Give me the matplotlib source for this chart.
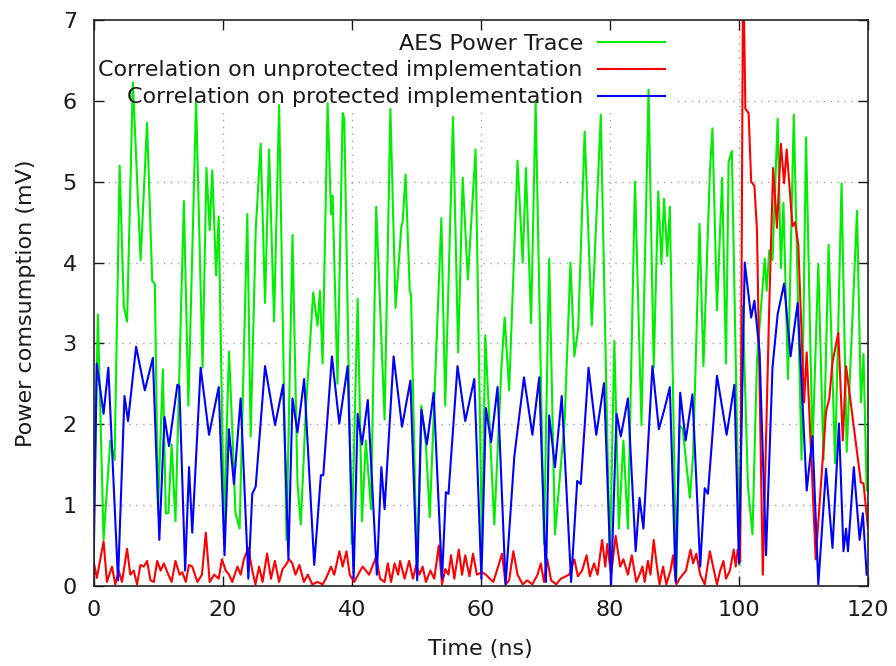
import matplotlib
matplotlib.use("Agg")
import matplotlib.pyplot as plt
from matplotlib.patches import Rectangle

# AES power trace (mV) against time (ns)
green_t = [0.0, 0.68, 1.56, 2.6, 3.27, 4.05, 4.7, 5.2, 6.1, 7.3, 8.3, 9.1, 9.5, 10.0, 10.75,
           11.2, 11.6, 12.1, 12.7, 14.0, 14.7, 15.9, 16.9, 17.5, 18.0, 18.4, 19.0, 19.4, 20.2,
           21.0, 21.5, 22.0, 22.64, 23.83, 24.35, 25.13, 25.9, 26.58, 27.2, 27.98, 28.76, 29.9,
           30.83, 31.6, 32.12, 32.9, 34.04, 34.7, 35.08, 35.5, 36.27, 36.8, 37.05, 37.8, 38.6,
           38.86, 40.0, 40.93, 41.6, 42.2, 43.0, 43.8, 45.1, 46.0, 46.8, 47.7, 47.9, 48.35, 49.0,
           49.2, 50.1, 50.8, 51.5, 52.1, 53.9, 54.5, 55.7, 56.5, 57.2, 58.0, 59.2, 60.2, 60.7,
           61.6, 62.1, 63.2, 63.7, 64.4, 65.7, 66.5, 67.0, 67.8, 68.5, 69.8, 70.6, 71.5, 73.0,
           73.9, 74.5, 75.1, 76.1, 77.2, 78.6, 80.0, 80.7, 81.4, 82.1, 82.8, 83.9, 84.9, 86.0,
           86.8, 87.5, 88.0, 88.4, 88.9, 89.3, 90.3, 90.8, 91.3, 92.4, 92.9, 93.9, 94.5, 95.5,
           95.9, 96.6, 97.4, 98.0, 98.4, 98.9, 100.1, 100.6, 101.4, 102.1, 102.8, 104.0, 104.3,
           104.7, 105.2, 106.0, 106.5, 106.9, 107.6, 108.5, 109.7, 110.4, 111.4, 112.3, 113.1,
           113.9, 114.9, 115.9, 116.7, 118.3, 118.9, 119.3, 119.8]
green_v = [0.6, 3.36, 0.57, 1.8, 1.56, 5.2, 3.46, 3.27, 6.23, 4.03, 5.73, 3.77, 3.74, 0.95, 2.68,
           0.9, 0.9, 1.75, 0.8, 4.76, 2.23, 6.0, 2.7, 5.17, 4.4, 5.14, 3.84, 4.57, 0.76,
           2.9, 1.94, 0.9, 0.71, 4.6, 1.85, 4.4, 5.47, 3.5, 5.4, 3.27, 5.95, 0.57,
           4.34, 1.28, 0.76, 2.18, 3.63, 3.22, 3.65, 2.75, 5.97, 4.6, 4.83, 2.5, 5.85,
           5.78, 0.52, 3.55, 0.8, 1.8, 0.95, 4.69, 2.06, 5.9, 3.44, 4.45, 4.5, 5.09, 3.65,
           3.6, 0.14, 2.23, 1.75, 0.85, 4.55, 2.23, 5.8, 2.89, 5.05, 3.79, 5.4, 0.43, 3.1,
           1.61, 0.76, 2.7, 3.32, 2.42, 5.26, 4.0, 5.17, 3.25, 6.0, 0.52, 4.05, 0.64, 2.04,
           4.0, 2.84, 3.18, 5.62, 3.22, 5.83, 0.28, 3.03, 0.71, 1.8, 0.71, 5.0, 1.99, 6.14,
           2.7, 4.88, 3.98, 4.79, 4.08, 4.69, 0.05, 1.99, 1.94, 1.09, 1.61, 4.48, 2.72, 5.12,
           5.66, 3.41, 5.05, 2.75, 5.24, 5.38, 0.26, 3.46, 1.23, 0.64, 2.8, 4.05, 3.65,
           4.15, 4.03, 5.78, 3.93, 4.74, 2.56, 5.83, 1.56, 5.55, 1.7, 3.98, 1.56,
           4.22, 1.52, 4.98, 1.66, 4.64, 2.27, 2.87, 1.18]

# correlation on the unprotected implementation
red_t = [0.0, 0.52, 1.56, 2.08, 2.86, 3.38, 3.9, 4.42, 5.2, 5.7, 6.23, 6.75, 7.27, 7.8, 8.3,
         8.83, 9.35, 9.87, 10.4, 10.9, 11.6, 12.1, 12.7, 13.35, 13.77, 14.3, 14.8, 15.3, 16.1,
         16.8, 17.4, 18.0, 18.7, 19.4, 19.9, 20.5, 21.0, 21.5, 22.3, 22.8, 23.3, 24.0, 24.6,
         25.1, 25.65, 26.2, 26.9, 27.5, 28.1, 28.76, 29.3, 29.8, 30.3, 30.8, 31.3, 31.9, 32.6,
         33.2, 33.9, 34.7, 35.5, 36.0, 36.8, 37.3, 38.1, 38.6, 39.2, 39.7, 40.4, 41.2, 41.7,
         42.7, 43.8, 44.4, 45.1, 45.6, 46.1, 46.65, 47.2, 47.5, 48.2, 48.9, 49.5, 50.0, 50.5,
         51.0, 51.5, 52.2, 52.8, 53.5, 54.0, 54.5, 55.0, 55.4, 55.9, 56.6, 57.1, 57.6, 58.25,
         58.8, 59.4, 60.2, 60.8, 61.4, 61.95, 62.5, 63.3, 63.85, 64.4, 65.05, 65.7, 66.5, 67.2,
         68.0, 68.8, 69.3, 69.8, 70.3, 70.9, 71.7, 72.4, 73.2, 73.7, 74.5, 75.05, 75.7, 76.4,
         76.9, 77.55, 78.1, 78.8, 79.3, 79.6, 80.2, 80.9, 81.6, 82.1, 82.8, 83.4, 84.1, 84.6,
         85.05, 85.4, 85.9, 86.3, 86.8, 87.3, 87.7, 88.25, 88.75, 89.4, 89.8, 90.3, 90.8, 91.3,
         91.8, 92.5, 92.9, 93.4, 94.0, 94.7, 95.5, 96.0, 96.6, 97.1, 97.6, 98.0, 98.6, 99.2,
         99.5, 99.8, 100.2, 100.65, 101.0, 101.5, 101.9, 102.4, 102.8, 103.7, 104.7, 105.3,
         105.9, 106.5, 107.0, 107.4, 108.3, 108.7, 109.2, 110.1, 110.5, 111.9, 113.5, 114.0,
         114.5, 115.4, 116.1, 116.6, 118.0, 118.9, 119.3, 120.0]
red_v = [0.31, 0.1, 0.55, 0.05, 0.24, 0.02, 0.19, 0.05, 0.46, 0.14, 0.19, 0.02, 0.26, 0.24, 0.31,
         0.07, 0.05, 0.31, 0.19, 0.28, 0.14, 0.05, 0.31, 0.14, 0.17, 0.05, 0.26, 0.24, 0.05,
         0.14, 0.66, 0.05, 0.14, 0.09, 0.33, 0.19, 0.14, 0.05, 0.24, 0.14, 0.33, 0.47, 0.19,
         0.02, 0.24, 0.05, 0.4, 0.09, 0.31, 0.05, 0.21, 0.26, 0.33, 0.28, 0.14, 0.26, 0.05,
         0.14, 0.02, 0.05, 0.02, 0.09, 0.24, 0.14, 0.43, 0.24, 0.43, 0.14, 0.05, 0.17, 0.24,
         0.14, 0.36, 0.09, 0.05, 0.28, 0.05, 0.28, 0.14, 0.31, 0.09, 0.31, 0.09, 0.26, 0.14,
         0.24, 0.05, 0.19, 0.09, 0.5, 0.02, 0.21, 0.14, 0.38, 0.09, 0.45, 0.14, 0.38, 0.12,
         0.4, 0.14, 0.17, 0.14, 0.09, 0.05, 0.19, 0.4, 0.02, 0.07, 0.43, 0.14, 0.02, 0.07,
         0.02, 0.14, 0.28, 0.05, 0.33, 0.07, 0.02, 0.09, 0.12, 0.14, 0.33, 0.12, 0.19, 0.38,
         0.12, 0.28, 0.14, 0.57, 0.24, 0.52, 0.14, 0.62, 0.24, 0.33, 0.14, 0.38, 0.05, 0.14,
         0.24, 0.05, 0.31, 0.14, 0.57, 0.24, 0.02, 0.24, 0.02, 0.19, 0.38, 0.02, 0.09, 0.14,
         0.19, 0.45, 0.28, 0.4, 0.14, 0.02, 0.43, 0.24, 0.02, 0.19, 0.31, 0.09, 0.19, 0.45,
         0.24, 0.45, 0.3, 7.8, 5.9, 5.85, 5.0, 4.95, 4.4, 0.14, 3.46, 5.17,
         4.43, 5.47, 4.98, 5.4, 4.45, 4.5, 4.22, 2.27, 2.89, 0.33, 2.16, 2.32,
         2.77, 3.13, 1.8, 2.72, 1.85, 1.28, 1.27, 0.71]

# correlation on the protected implementation
blue_t = [0.0, 0.5, 1.56, 2.3, 3.8, 4.8, 5.35, 6.6, 7.95, 9.2, 10.2, 11.0, 11.7, 13.0, 13.3,
          14.2, 14.8, 15.3, 16.6, 17.9, 19.4, 20.3, 20.98, 21.76, 22.8, 23.99, 24.6, 25.13,
          26.58, 28.13, 29.38, 30.2, 30.83, 31.6, 32.64, 34.2, 35.23, 35.6, 36.94, 38.08, 39.38,
          40.3, 40.93, 41.6, 42.5, 43.9, 44.6, 45.1, 46.5, 47.8, 49.1, 50.15, 50.8, 51.65, 52.7,
          54.0, 54.6, 55.0, 56.4, 57.6, 59.0, 60.1, 60.8, 61.6, 62.6, 63.85, 65.2, 66.7, 68.0,
          69.06, 70.1, 70.6, 71.5, 72.55, 74.0, 74.95, 75.5, 76.7, 77.9, 79.1, 80.2, 81.04, 81.7,
          82.8, 84.0, 84.6, 85.2, 86.6, 87.6, 88.5, 89.3, 90.2, 90.9, 91.75, 92.8, 94.0, 94.7,
          95.2, 96.6, 98.1, 99.3, 100.0, 100.9, 101.9, 102.4, 103.2, 104.2, 105.2, 106.0, 107.0,
          108.0, 109.1, 109.85, 110.5, 111.4, 112.3, 113.5, 114.5, 115.5, 116.2, 116.6, 116.9,
          117.8, 118.7, 119.2, 119.8]
blue_v = [0.14, 2.75, 2.13, 2.7, 0.07, 2.35, 2.04, 2.96, 2.42, 2.82, 0.57, 2.09, 1.73, 2.49, 2.47,
          0.19, 1.47, 0.66, 2.7, 1.87, 2.46, 0.38, 1.94, 1.26, 2.32, 0.09, 1.14, 1.23,
          2.72, 1.99, 2.49, 0.33, 2.32, 1.9, 2.56, 0.26, 1.37, 1.37, 2.84, 2.01, 2.72,
          0.09, 2.13, 1.75, 2.3, 0.14, 1.47, 0.95, 2.84, 1.97, 2.54, 0.07, 2.18, 1.75, 2.39,
          0.09, 1.16, 1.14, 2.72, 2.04, 2.56, 0.09, 2.2, 1.78, 2.46, 0.02, 1.6, 2.58, 1.87,
          2.58, 0.05, 2.11, 1.47, 2.35, 0.05, 1.3, 1.26, 2.7, 1.87, 2.51, 0.02, 2.13, 1.85,
          2.32, 0.43, 1.09, 0.71, 2.72, 1.94, 2.2, 2.46, 0.05, 2.39, 1.8, 2.37, 0.24, 1.21,
          1.14, 2.6, 1.87, 2.49, 0.28, 4.0, 3.32, 3.53, 2.89, 0.38, 2.7, 3.36, 3.74,
          2.84, 3.5, 2.27, 1.18, 1.85, 0.02, 1.45, 0.47, 2.01, 0.43, 0.71, 0.43,
          1.47, 0.57, 0.9, 0.14]

series_labels = ["AES Power Trace",
                 "Correlation on unprotected implementation",
                 "Correlation on protected implementation"]
x_ticks = [0, 20, 40, 60, 80, 100, 120]
y_ticks = [0, 1, 2, 3, 4, 5, 6, 7]

plt.rcParams["font.family"] = ["DejaVu Sans"]
FS = 16
TEXT = "#1a1a1a"

fig = plt.figure(figsize=(8.96, 6.66), dpi=100)
ax = fig.add_axes([93.5 / 896, 80 / 666, 774.5 / 896, 566 / 666])

# dotted grid, kept underneath everything
grid_style = dict(color="#a0a0a0", lw=1.0, ls=(0, (1, 4)), zorder=0.2)
for y in y_ticks[1:-1]:
    ax.axhline(y, **grid_style)
for x in x_ticks[1:-1]:
    ax.axvline(x, **grid_style)

# opaque key area hides the grid behind the legend
ax.add_patch(Rectangle((0, 0.8445), 0.751, 1 - 0.8445, transform=ax.transAxes,
                       facecolor="white", edgecolor="none", zorder=0.4))

ax.plot(green_t, green_v, color="#00ee00", lw=1.5, label=series_labels[0], zorder=2)
ax.plot(red_t, red_v, color="#ff0000", lw=1.5, label=series_labels[1], zorder=2.1)
ax.plot(blue_t, blue_v, color="#0000ff", lw=1.5, label=series_labels[2], zorder=2.2)

ax.set_xlim(0, 120)
ax.set_ylim(0, 7)
ax.set_xticks(x_ticks)
ax.set_yticks(y_ticks)
ax.tick_params(direction="in", length=7, width=1, top=True, right=True,
               labelsize=FS, colors=TEXT)
ax.tick_params(axis="x", pad=10)
ax.tick_params(axis="y", pad=12)
for s in ax.spines.values():
    s.set_linewidth(1.2)
    s.set_color("#222222")

ax.set_xlabel("Time (ns)", fontsize=FS, labelpad=14, color=TEXT)
ax.set_ylabel("Power comsumption (mV)", fontsize=FS, labelpad=19, color=TEXT)

leg = ax.legend(loc="upper right", bbox_to_anchor=(0.738, 0.976), frameon=False,
                markerfirst=False, fontsize=FS, handlelength=3.0, handletextpad=0.7,
                labelspacing=0.31, borderpad=0, borderaxespad=0)
for t in leg.get_texts():
    t.set_color(TEXT)

fig.savefig("out.png", dpi=100)
